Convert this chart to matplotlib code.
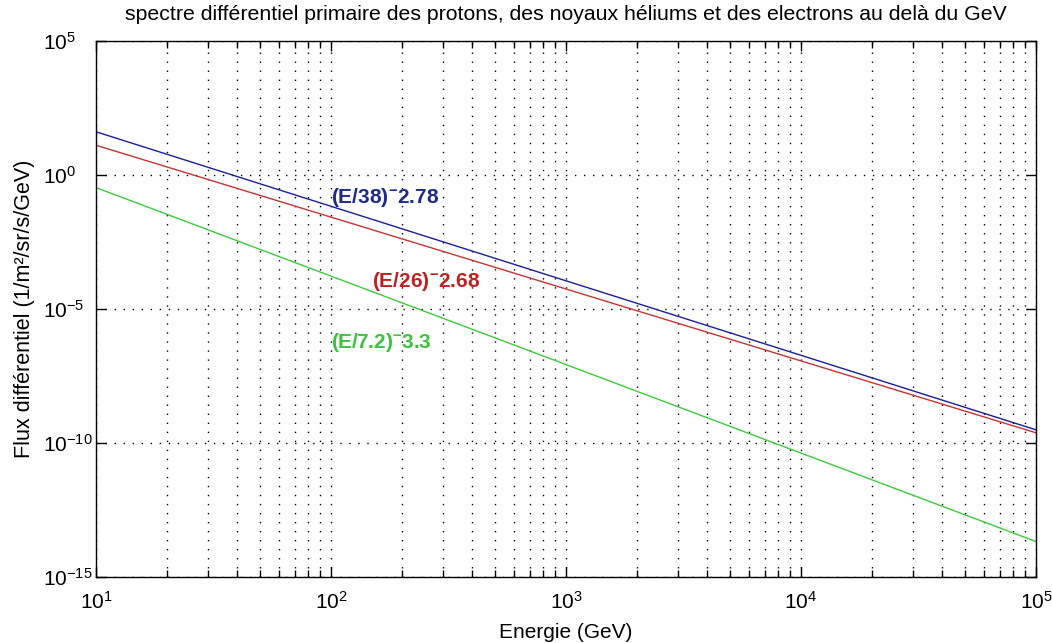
import matplotlib
matplotlib.use("Agg")
import matplotlib.pyplot as plt
from matplotlib.ticker import LogLocator, FixedLocator, NullFormatter, NullLocator

plt.rcParams['font.family'] = ['Liberation Sans', 'DejaVu Sans']
plt.rcParams['mathtext.fontset'] = 'custom'
plt.rcParams['mathtext.rm'] = 'Liberation Sans'
plt.rcParams['mathtext.it'] = 'Liberation Sans'
plt.rcParams['mathtext.bf'] = 'Liberation Sans:bold'
plt.rcParams['mathtext.default'] = 'regular'

# Data (straight lines in log-log space)
energy = [10, 1e5]
flux_proton = [41, 3.1e-10]
flux_helium = [12.9, 2.4e-10]
flux_electron = [0.338, 2.1e-14]

labels = ['(E/38)', '(E/26)', '(E/7.2)']
exponents = ['2.78', '2.68', '3.3']
label_x = [100, 150, 100]
label_y = [0.15, 1.1e-4, 5.4e-7]

colors = ['#1c1c9c', '#c83232', '#3ccc3c']
text_colors = ['#1f2a8a', '#c02020', '#3cc43c']

yticks = [1e-15, 1e-10, 1e-5, 1e0, 1e5]
ytick_labels = ['$10^{-15}$', '$10^{-10}$', '$10^{-5}$', '$10^{0}$', '$10^{5}$']
xticks = [1e1, 1e2, 1e3, 1e4, 1e5]
xtick_labels = ['$10^{1}$', '$10^{2}$', '$10^{3}$', '$10^{4}$', '$10^{5}$']

fig = plt.figure(figsize=(10.52, 6.43), dpi=100)
fig.patch.set_facecolor('white')
ax = fig.add_axes([96/1052, 1-577/643, (1036-96)/1052, (577-41)/643])

for flux, c in zip([flux_proton, flux_helium, flux_electron], colors):
    ax.plot(energy, flux, color=c, lw=1.0)

ax.set_xscale('log')
ax.set_yscale('log')
ax.set_xlim(1e1, 1e5)
ax.set_ylim(1e-15, 1e5)

ax.xaxis.set_major_locator(FixedLocator(xticks))
ax.set_xticklabels(xtick_labels)
ax.xaxis.set_minor_locator(LogLocator(base=10, subs=range(2, 10), numticks=20))
ax.xaxis.set_minor_formatter(NullFormatter())
ax.yaxis.set_major_locator(FixedLocator(yticks))
ax.set_yticklabels(ytick_labels)
ax.yaxis.set_minor_locator(NullLocator())

ax.tick_params(which='both', direction='in', top=True, right=True, width=1.0, colors='black')
ax.tick_params(which='major', length=7, labelsize=15)
ax.tick_params(which='minor', length=5)
ax.tick_params(axis='x', which='major', pad=10)
ax.tick_params(axis='y', which='major', pad=38)
for lab in ax.get_yticklabels():
    lab.set_horizontalalignment('left')

ax.grid(True, which='major', axis='both', color='black', linestyle=(0, (1, 5.5)), lw=1.0)
ax.grid(True, which='minor', axis='x', color='black', linestyle=(0, (1, 5.5)), lw=1.0)

for sp in ax.spines.values():
    sp.set_linewidth(1.0)
    sp.set_color('black')

for lab, ex, x, y, c in zip(labels, exponents, label_x, label_y, text_colors):
    ax.text(x, y, lab + r'$^{\mathbf{-}}$' + ex, color=c, fontsize=15,
            fontweight='bold', ha='left', va='center')

ax.set_title("spectre différentiel primaire des protons, des noyaux héliums et des electrons au delà du GeV",
             fontsize=15.3, pad=15)
ax.set_xlabel('Energie (GeV)', fontsize=15, labelpad=7)
ax.set_ylabel('Flux différentiel (1/m²/sr/s/GeV)', fontsize=15.5, labelpad=6)

fig.savefig('out.png', dpi=100, facecolor='white')
